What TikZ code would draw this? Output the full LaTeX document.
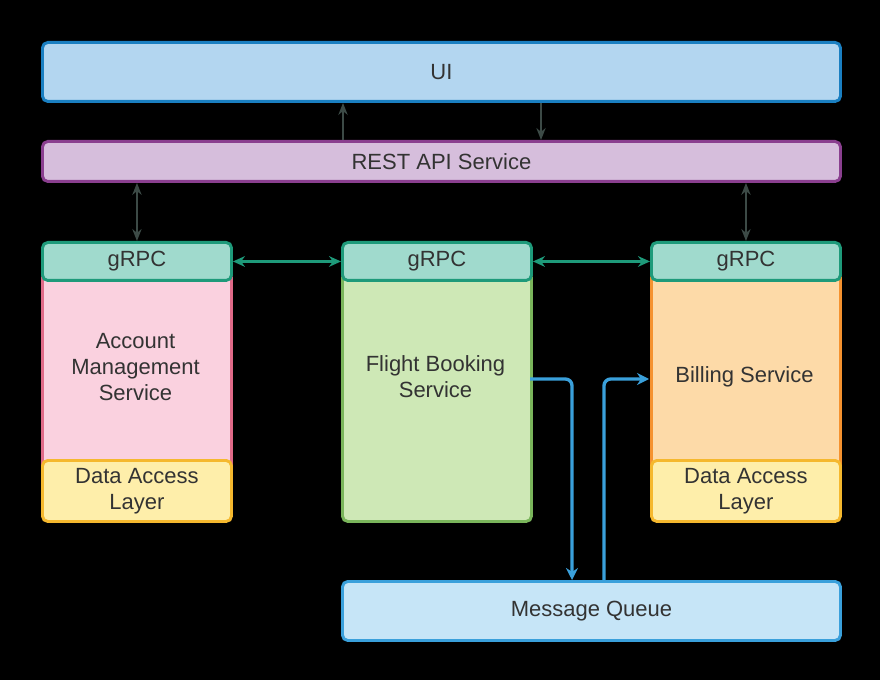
\documentclass[tikz,border=0pt]{standalone}
\usepackage{fontspec}
\setmainfont{Liberation Sans}
\usetikzlibrary{arrows.meta}
\definecolor{txt}{HTML}{333333}
\definecolor{uifill}{HTML}{B3D6F0}
\definecolor{uiline}{HTML}{1A7FC1}
\definecolor{restfill}{HTML}{D6BEDC}
\definecolor{restline}{HTML}{8A3F8F}
\definecolor{grpcfill}{HTML}{A0DACD}
\definecolor{grpcline}{HTML}{1E9A7A}
\definecolor{pinkfill}{HTML}{FAD1DF}
\definecolor{pinkline}{HTML}{E06A88}
\definecolor{greenfill}{HTML}{CEE8B6}
\definecolor{greenline}{HTML}{7AB55B}
\definecolor{orangefill}{HTML}{FDDAA8}
\definecolor{orangeline}{HTML}{F5922F}
\definecolor{dalfill}{HTML}{FEEEAA}
\definecolor{dalline}{HTML}{F5B82E}
\definecolor{mqfill}{HTML}{C6E5F7}
\definecolor{mqline}{HTML}{3AA0DB}
\definecolor{darkarrow}{HTML}{3C4A46}
\tikzset{
  lbl/.style={text=txt, font=\fontsize{16.5}{19.5}\selectfont, align=center},
  box/.style={draw, line width=2.2pt, rounded corners=4pt, inner sep=0pt, lbl},
  teal arrow/.style={draw=grpcline, line width=2pt, {Stealth[length=9pt,width=8pt]}-{Stealth[length=9pt,width=8pt]}},
  dark arrow/.style={draw=darkarrow, line width=1.2pt},
  mq arrow/.style={draw=mqline, line width=2.5pt, rounded corners=5pt, -{Stealth[length=9pt,width=9pt]}},
}
\begin{document}
\begin{tikzpicture}[x=0.75pt,y=-0.75pt]
\fill[black] (0,0) rectangle (880,680);
\useasboundingbox (0,0) rectangle (880,680);
% UI and REST
\node[box, draw=uiline, fill=uifill, minimum width=798*0.75pt, minimum height=59*0.75pt, anchor=north west] (ui) at (41,41) {UI};
\node[box, draw=restline, fill=restfill, minimum width=798*0.75pt, minimum height=40*0.75pt, anchor=north west] (rest) at (41,140) {REST API Service};
% Account
\node[box, draw=pinkline, fill=pinkfill, minimum width=189*0.75pt, minimum height=198*0.75pt, anchor=north west] (acc) at (41,271) {};
\node[lbl] (acct) at (135.5,367) {Account\\Management\\Service};
\node[box, draw=dalline, fill=dalfill, minimum width=189*0.75pt, minimum height=61*0.75pt, anchor=north west] (dal1) at (41,459) {Data Access\\Layer};
\node[box, draw=grpcline, fill=grpcfill, minimum width=189*0.75pt, minimum height=38*0.75pt, anchor=north west] (g1) at (41,241) {gRPC};
% Flight
\node[box, draw=greenline, fill=greenfill, minimum width=189*0.75pt, minimum height=249*0.75pt, anchor=north west] (fl) at (341,271) {};
\node[lbl] (flt) at (435.5,377) {Flight Booking\\Service};
\node[box, draw=grpcline, fill=grpcfill, minimum width=189*0.75pt, minimum height=38*0.75pt, anchor=north west] (g2) at (341,241) {gRPC};
% Billing
\node[box, draw=orangeline, fill=orangefill, minimum width=189*0.75pt, minimum height=198*0.75pt, anchor=north west] (bill) at (650,271) {};
\node[lbl] (billt) at (744.5,377) {Billing Service};
\node[box, draw=dalline, fill=dalfill, minimum width=189*0.75pt, minimum height=61*0.75pt, anchor=north west] (dal2) at (650,459) {Data Access\\Layer};
\node[box, draw=grpcline, fill=grpcfill, minimum width=189*0.75pt, minimum height=38*0.75pt, anchor=north west] (g3) at (650,241) {gRPC};
% Message queue
\node[box, draw=mqline, fill=mqfill, minimum width=498*0.75pt, minimum height=59*0.75pt, anchor=north west] (mq) at (341,580) {Message Queue};
% UI <-> REST arrows
\draw[dark arrow, -{Stealth[length=9pt,width=7pt]}] (rest.north -| 343,0) -- (ui.south -| 343,0);
\draw[dark arrow, -{Stealth[length=9pt,width=7pt]}] (ui.south -| 541,0) -- (rest.north -| 541,0);
% REST <-> services
\draw[dark arrow, {Stealth[length=9pt,width=7pt]}-{Stealth[length=9pt,width=7pt]}] (rest.south -| g1.north) -- (g1.north);
\draw[dark arrow, {Stealth[length=9pt,width=7pt]}-{Stealth[length=9pt,width=7pt]}] (rest.south -| g3.north) -- (g3.north);
% gRPC links
\draw[teal arrow] (g1.east) -- (g2.west);
\draw[teal arrow] (g2.east) -- (g3.west);
% Message queue links
\coordinate (fo) at (530,379);
\coordinate (bi) at (649,379);
\draw[mq arrow] (fo) -- (572,379) -- (mq.north -| 572,0);
\draw[mq arrow] (mq.north -| 604,0) -- (604,379) -- (bi);
\end{tikzpicture}
\end{document}
